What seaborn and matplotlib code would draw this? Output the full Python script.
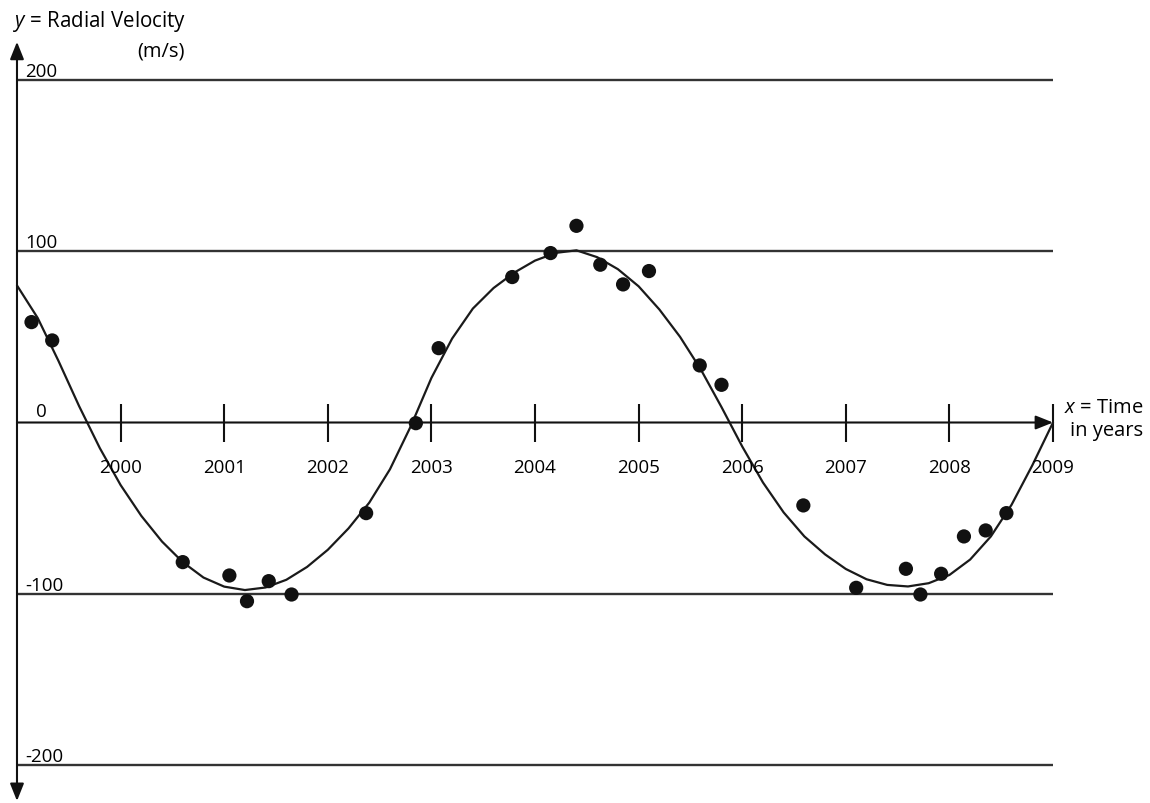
import matplotlib
matplotlib.use("Agg")
import matplotlib.pyplot as plt
import numpy as np
import pandas as pd
import seaborn as sns

sns.set_style("white")
plt.rcParams["font.family"] = ["Open Sans", "DejaVu Sans"]
plt.rcParams["text.color"] = "black"
plt.rcParams["mathtext.fontset"] = "custom"
plt.rcParams["mathtext.it"] = "Open Sans:italic"
plt.rcParams["mathtext.rm"] = "Open Sans"

# observed radial velocities (m/s)
obs_year = [1999.14, 1999.34, 2000.60, 2001.05, 2001.22, 2001.43, 2001.65, 2002.37,
            2002.85, 2003.07, 2003.78, 2004.15, 2004.40, 2004.63, 2004.85, 2005.10,
            2005.59, 2005.80, 2006.59, 2007.10, 2007.58, 2007.72, 2007.92, 2008.14,
            2008.35, 2008.55]
obs_vel = [58.6, 47.9, -81.5, -89.3, -104.3, -92.6, -100.4, -52.9,
           -0.4, 43.4, 84.9, 98.9, 114.8, 92.1, 80.6, 88.4,
           33.3, 22.0, -48.4, -96.5, -85.4, -100.4, -88.3, -66.5,
           -63.0, -52.9]

# fitted curve, every 0.2 years from 1999 to 2009
fit_year = [1999.0, 1999.2, 1999.4, 1999.6, 1999.8, 2000.0, 2000.2, 2000.4, 2000.6, 2000.8,
            2001.0, 2001.2, 2001.4, 2001.6, 2001.8, 2002.0, 2002.2, 2002.4, 2002.6, 2002.8,
            2003.0, 2003.2, 2003.4, 2003.6, 2003.8, 2004.0, 2004.2, 2004.4, 2004.6, 2004.8,
            2005.0, 2005.2, 2005.4, 2005.6, 2005.8, 2006.0, 2006.2, 2006.4, 2006.6, 2006.8,
            2007.0, 2007.2, 2007.4, 2007.6, 2007.8, 2008.0, 2008.2, 2008.4, 2008.6, 2008.8,
            2009.0]
fit_vel = [80.0, 61.0, 36.0, 9.5, -15.0, -36.5, -54.5, -69.5, -81.5, -90.5,
           -95.8, -97.8, -96.3, -91.8, -84.3, -74.3, -61.8, -46.8, -27.3, -2.3,
           26.0, 49.0, 66.5, 78.5, 87.5, 94.5, 99.0, 100.5, 96.5, 89.5,
           79.5, 66.0, 50.0, 31.0, 9.0, -14.0, -35.0, -52.5, -66.5, -77.0,
           -85.5, -91.5, -94.8, -95.7, -93.8, -89.0, -80.0, -66.5, -48.0, -25.0,
           0.0]

years = list(range(2000, 2010))
grid_levels = [200, 100, -100, -200]
level_labels = ["200", "100", "-100", "-200"]

obs = pd.DataFrame({"year": obs_year, "vel": obs_vel})
fit = pd.DataFrame({"year": fit_year, "vel": fit_vel})

fig = plt.figure(figsize=(11.5, 8.04), dpi=100)
ax = fig.add_axes([0, 0, 1, 1])
ax.set_xlim(1998.836, 2009.936)
ax.set_ylim(-222.1, 247.2)
ax.axis("off")

# horizontal reference lines
ax.hlines(grid_levels, 1999, 2009, color="#333333", lw=1.7)
for lev, lab in zip(grid_levels, level_labels):
    ax.text(1999.077, lev + 2.5, lab, fontsize=13.5, va="baseline", ha="left")
ax.text(1999.18, 4.0, "0", fontsize=13.5, va="baseline", ha="left")

# axes with arrows
arrow = dict(arrowstyle="-|>,head_length=1.05,head_width=0.42", color="#111111",
             lw=1.5, shrinkA=0, shrinkB=0, mutation_scale=10)
ax.annotate("", xy=(1999, 222.2), xytext=(1999, 0), arrowprops=arrow)
ax.annotate("", xy=(1999, -220.9), xytext=(1999, 0), arrowprops=arrow)
ax.annotate("", xy=(2009, 0), xytext=(1999, 0), arrowprops=arrow)

ax.vlines(years, -11.6, 10.8, color="#111111", lw=1.5)
for yr in years:
    ax.text(yr, -28.9, str(yr), fontsize=13.5, ha="center", va="baseline")

sns.lineplot(data=fit, x="year", y="vel", ax=ax, color="#1a1a1a", lw=1.6,
             sort=False, estimator=None, solid_joinstyle="round")
sns.scatterplot(data=obs, x="year", y="vel", ax=ax, color="#111111", s=105,
                edgecolor="none", zorder=5)

ax.text(1998.961, 231.5, "$y$ = Radial Velocity", fontsize=14.8, ha="left", va="baseline")
ax.text(2000.622, 214.5, "(m/s)", fontsize=14.5, ha="right", va="baseline")
ax.text(2009.869, 6.1, "$x$ = Time", fontsize=14.5, ha="right", va="baseline")
ax.text(2009.869, -7.3, "in years", fontsize=14.5, ha="right", va="baseline")

fig.savefig("out.png", dpi=100, facecolor="white")
